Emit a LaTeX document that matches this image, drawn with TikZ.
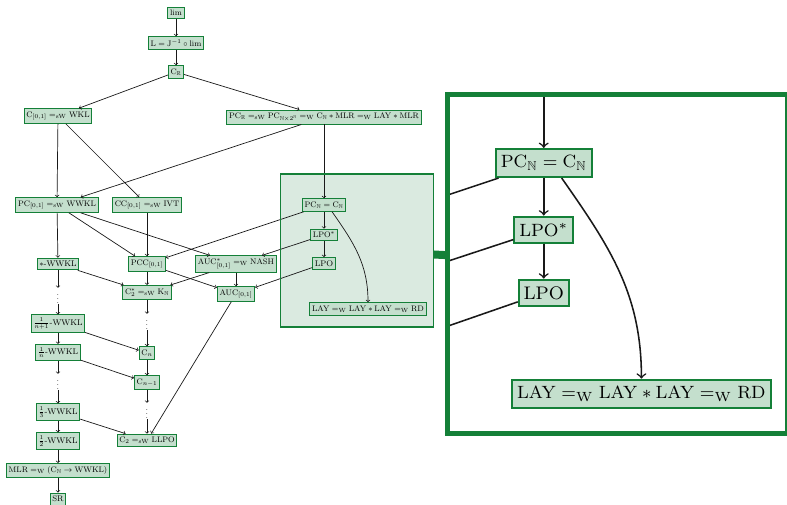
\documentclass[tikz,border=0pt]{standalone}
\usepackage{amsmath, amssymb}
\usepackage{xcolor}
\usepackage{tikz}
\usetikzlibrary{spy}
\definecolor{leafgreen}{RGB}{20, 128, 56}
\definecolor{lensgreen}{RGB}{218, 234, 224}
\newcommand{\eqsW}{=_{\mathrm{sW}}}
\newcommand{\eqW}{=_{\mathrm{W}}}

\begin{document}
\begin{tikzpicture}[
        x = 1pt, y = 1pt,
        wbox/.style = {draw=leafgreen, fill=leafgreen!25, line width=0.9pt, inner xsep=2.2pt, inner ysep=3pt, font=\fontsize{8.2pt}{9.5pt}\selectfont},
        vdot/.style = {inner sep=0.5pt, font=\small},
        arrow/.style = {->, line width=0.7pt, black!90}
    ]
    \useasboundingbox (0,0) rectangle (787,-505);
    % lens background, kept out of the magnified copy
    \fill [lensgreen] (281,-175) rectangle (433,-326);

    \begin{scope}[spy using outlines={rectangle, leafgreen, magnification=2.22}]
        % Nodes
        \node [wbox] (lim) at (176,-13) {$\lim$};
        \node [wbox] (limj) at (176,-43) {$\mathrm{L} = \mathrm{J}^{-1}\circ\lim$};
        \node [wbox] (cr) at (176,-72) {$\mathrm{C}_{\mathbb{R}}$};
        \node [wbox] (cwkl) at (58,-116) {$\mathrm{C}_{[0,1]} \eqsW \mathrm{WKL}$};
        \node [wbox] (pcr) at (324,-117) {$\mathrm{PC}_{\mathbb{R}} \eqsW \mathrm{PC}_{\mathbb{N}\times 2^{\mathbb{N}}} \eqW \mathrm{C}_{\mathbb{N}} * \mathrm{MLR} \eqW \mathrm{LAY} * \mathrm{MLR}$};
        \node [wbox] (pcwwkl) at (57,-205) {$\mathrm{PC}_{[0,1]} \eqsW \mathrm{WWKL}$};
        \node [wbox] (ccivt) at (147,-205) {$\mathrm{CC}_{[0,1]} \eqsW \mathrm{IVT}$};
        \node [wbox] (pcn) at (324,-205) {$\mathrm{PC}_{\mathbb{N}} = \mathrm{C}_{\mathbb{N}}$};
        \node [wbox] (lpostar) at (324,-235) {$\mathrm{LPO}^*$};
        \node [wbox] (lpo) at (324,-263.5) {LPO};
        \node [wbox] (lay) at (368,-309) {$\mathrm{LAY} \eqW \mathrm{LAY} * \mathrm{LAY} \eqW \mathrm{RD}$};
        \node [wbox] (swwkl) at (58,-264) {$*$-WWKL};
        \node [wbox] (pcc) at (147,-264) {$\mathrm{PCC}_{[0,1]}$};
        \node [wbox] (aucnash) at (236,-264) {$\mathrm{AUC}^*_{[0,1]} \eqW \mathrm{NASH}$};
        \node [wbox] (ctwok) at (147,-292.5) {$\mathrm{C}_2^* \eqsW \mathrm{K}_{\mathbb{N}}$};
        \node [wbox] (auc) at (236,-294) {$\mathrm{AUC}_{[0,1]}$};
        \node [vdot] (dotsa) at (58,-296) {$\vdots$};
        \node [wbox] (fn1) at (58,-323.5) {$\frac{1}{n+1}$-WWKL};
        \node [wbox] (fn) at (58,-352.5) {$\frac{1}{n}$-WWKL};
        \node [vdot] (dotsb) at (58,-382) {$\vdots$};
        \node [wbox] (fthree) at (58,-412) {$\frac{1}{3}$-WWKL};
        \node [wbox] (ftwo) at (58,-441) {$\frac{1}{2}$-WWKL};
        \node [wbox] (mlr) at (58,-470.5) {$\mathrm{MLR} \eqW (\mathrm{C}_{\mathbb{N}} \to \mathrm{WWKL})$};
        \node [wbox] (sr) at (58,-499) {SR};
        \node [vdot] (dotsc) at (147,-322) {$\vdots$};
        \node [wbox] (cn) at (147,-353) {$\mathrm{C}_n$};
        \node [wbox] (cnm) at (147,-382.5) {$\mathrm{C}_{n-1}$};
        \node [vdot] (dotsd) at (147,-411) {$\vdots$};
        \node [wbox] (ctwo) at (147,-440.5) {$\mathrm{C}_2 \eqsW \mathrm{LLPO}$};

        % Connectors
        \draw [arrow] (lim) -- (limj);
        \draw [arrow] (limj) -- (cr);
        \draw [arrow] (cr) -- (cwkl);
        \draw [arrow] (cr) -- (pcr);
        \draw [arrow] (cwkl) -- (pcwwkl);
        \draw [arrow] (cwkl) -- (ccivt);
        \draw [arrow] (pcr) -- (pcwwkl);
        \draw [arrow] (pcr) -- (pcn);
        \draw [arrow] (pcwwkl) -- (swwkl);
        \draw [arrow] (pcwwkl) -- (pcc);
        \draw [arrow] (pcwwkl) -- (aucnash);
        \draw [arrow] (ccivt) -- (pcc);
        \draw [arrow] (pcn) -- (pcc);
        \draw [arrow] (pcn) -- (lpostar);
        \draw [arrow] (lpostar) -- (lpo);
        \draw [arrow] (pcn.-40) to [out=-55, in=90] (lay);
        \draw [arrow] (lpostar) -- (aucnash);
        \draw [arrow] (lpo) -- (auc);
        \draw [arrow] (swwkl) -- (ctwok);
        \draw [arrow] (pcc) -- (ctwok);
        \draw [arrow] (pcc) -- (auc);
        \draw [arrow] (aucnash) -- (ctwok);
        \draw [arrow] (aucnash) -- (auc);
        \draw [arrow] (auc) -- (ctwo);
        \draw [arrow] (swwkl) -- (dotsa);
        \draw [arrow] (dotsa) -- (fn1);
        \draw [arrow] (fn1) -- (fn);
        \draw [arrow] (fn) -- (dotsb);
        \draw [arrow] (dotsb) -- (fthree);
        \draw [arrow] (fthree) -- (ftwo);
        \draw [arrow] (ftwo) -- (mlr);
        \draw [arrow] (mlr) -- (sr);
        \draw [arrow] (ctwok) -- (dotsc);
        \draw [arrow] (dotsc) -- (cn);
        \draw [arrow] (cn) -- (cnm);
        \draw [arrow] (cnm) -- (dotsd);
        \draw [arrow] (dotsd) -- (ctwo);
        \draw [arrow] (fn1) -- (cn);
        \draw [arrow] (fn) -- (cnm);
        \draw [arrow] (fthree) -- (ctwo);

        % Magnified region
        \spy [width=340pt, height=338pt, every spy on node/.append style={line width=1.8pt},
              spy connection path={\draw [line width=8pt] (tikzspyonnode) -- (tikzspyinnode);}]
            on (357,-250.5) in node [line width=5pt] at (617,-264);
    \end{scope}
\end{tikzpicture}
\end{document}
